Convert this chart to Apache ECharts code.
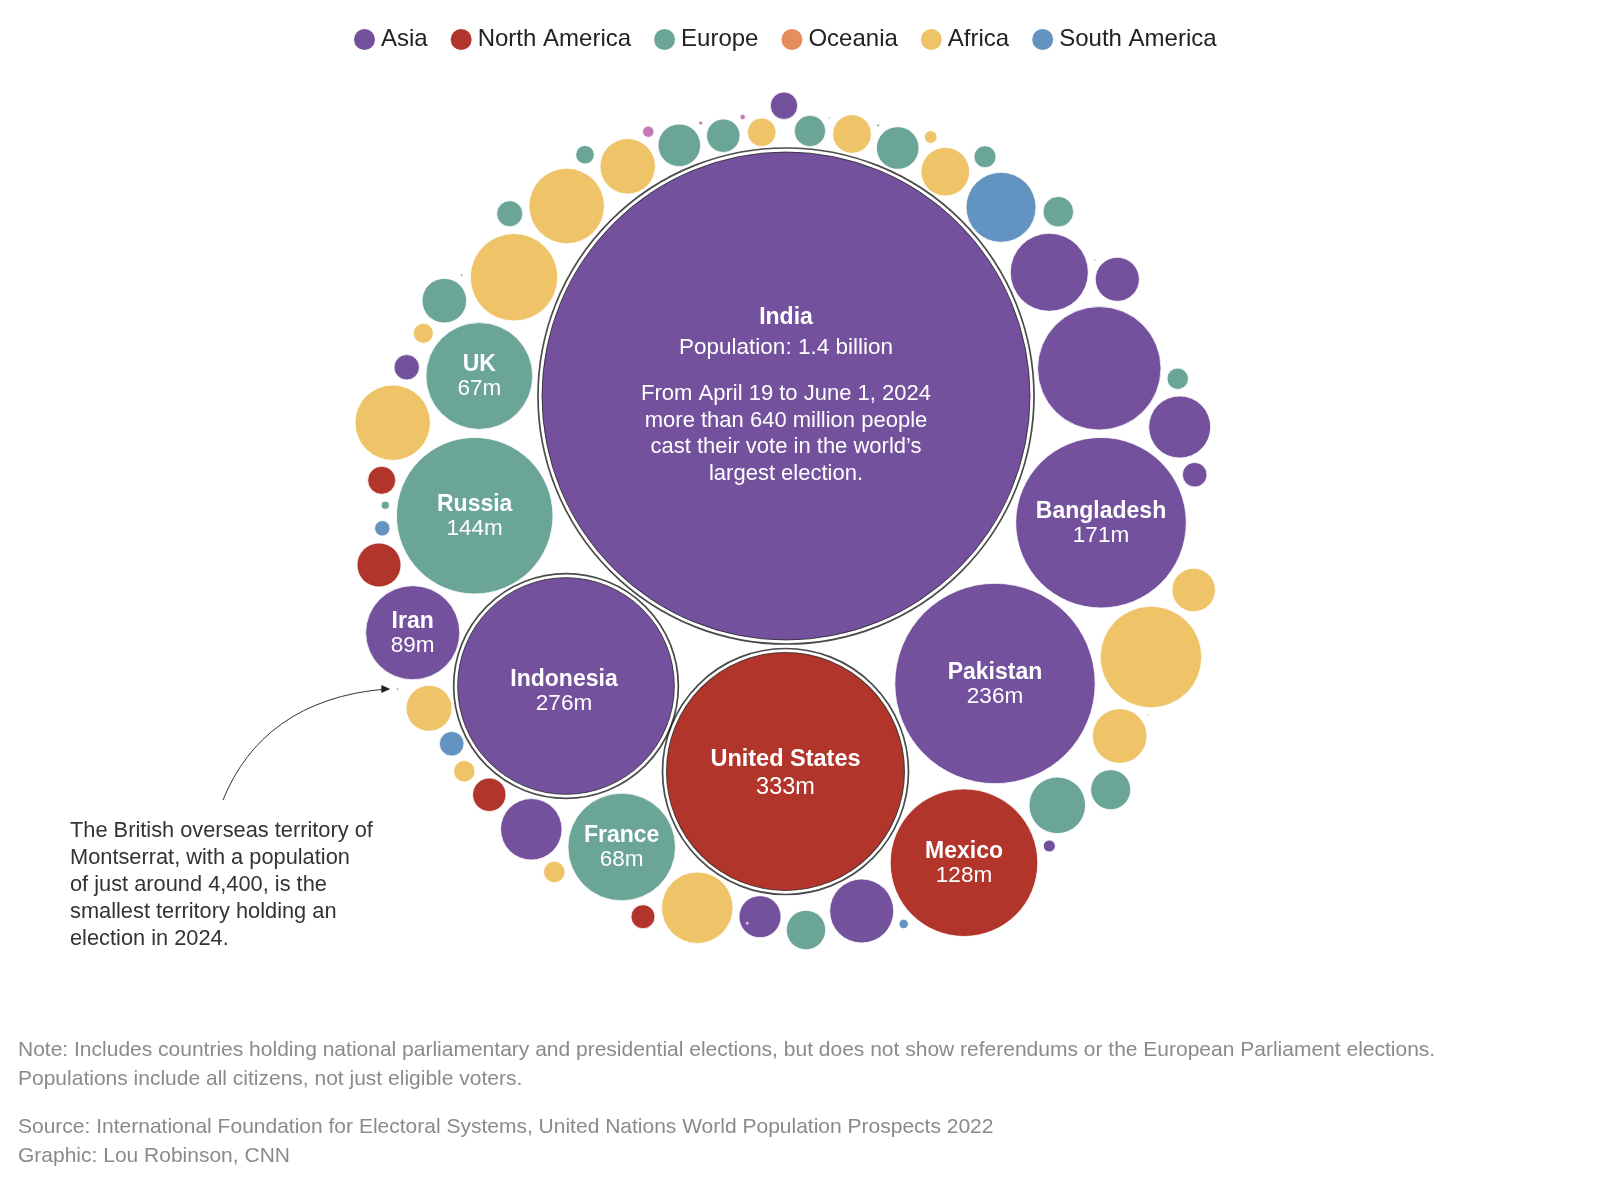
<!DOCTYPE html>
<html><head><meta charset="utf-8">
<script src="https://cdn.jsdelivr.net/npm/echarts@6/dist/echarts.min.js"></script>
<style>html,body{margin:0;padding:0;background:#fff}#c{width:1600px;height:1187px}</style>
</head><body><div id="c"></div><script>
// ---------- DATA ----------
const continentNames = ['Asia','North America','Europe','Oceania','Africa','South America'];
const continentColors = ['#74519d','#b2352b','#6aa597','#e58d5d','#efc367','#6394c1'];
const pacificColor = '#c579b7';

// labelled countries (population in millions as drawn; layout position relative to India)
const labeledNames = ['India','United States','Indonesia','Pakistan','Bangladesh','Russia','Mexico','France','UK','Iran'];
const labeledValues = ['1.4 billion','333m','276m','236m','171m','144m','128m','68m','67m','89m'];
const labeledContinents = ['Asia','North America','Asia','Asia','Asia','Europe','North America','Europe','Europe','Asia'];
const labeledPop = [1400,333,276,236,171,144,128,68,67,52];
const labeledX = [0,-0.5,-220,209,315,-311.3,178,-164.3,-306.7,-373.3];
const labeledY = [0,-375.5,-290,-287.5,-126.7,-119.7,-466.7,-451,20,-236.7];
const highlighted = ['India','United States','Indonesia'];

const indiaNote = ['From April 19 to June 1, 2024','more than 640 million people','cast their vote in the world\u2019s','largest election.'];

// unlabelled territories
const otherContinents = ['Asia','Europe','Africa','Pacific','Pacific','Europe','Europe','Pacific','Africa','Europe',
 'Africa','Europe','Africa','Pacific','Europe','Africa','Asia','Africa','North America','Europe',
 'South America','North America','North America','Africa','South America','Africa','North America','Asia','Africa','North America',
 'Africa','Asia','Europe','Asia','South America','Asia','Europe','Europe','Africa','Oceania',
 'Africa','Africa','Asia','Asia','Europe','Asia','Asia','Oceania','Asia','Europe',
 'South America','Europe','Africa','Africa','Europe','Europe','Africa','Pacific','Oceania'];
const otherPop = [4.41,5.80,4.81,0.17,0.094,6.56,10.67,0.76,18.05,2.03,
 33.4,3.98,44.9,0.04,11.7,2.35,3.79,33.4,4.61,0.38,
 1.39,11.4,0.0044,12.4,3.56,2.69,6.56,22.2,2.69,3.39,
 30.0,10.4,9.13,24.1,0.52,0.85,18.8,9.41,17.5,0.015,
 60.5,11.1,3.56,22.6,2.69,89.5,11.4,0.015,35.8,5.5,
 28.8,2.85,13.9,0.93,10.67,0.04,8.76,0.024,0.015];
const otherX = [-2,24,-24.3,-43.3,-85.3,-62.7,-106.7,-137.7,-158.3,-201,
 -219.3,-276.3,-272,-324.3,-341.7,-362.7,-379.3,-393.3,-404.3,-400.7,
 -403.7,-407,-388.7,-357,-334.3,-321.7,-296.7,-254.7,-231.7,-143,
 -88.7,-26,20,75.7,117.7,263.3,271.3,324.7,333.7,362,
 365,407.7,408.7,393.7,391.7,313.3,331.3,308.7,263.3,272.3,
 215,199,159.3,144.7,111.7,92.3,66,43.3,-38.7];
const otherY = [290.3,265,263.7,279,273,260.3,250.7,264.3,229.7,241.3,
 190,182.3,118.7,121,95.3,62.7,28.7,-26.7,-84.3,-109.3,
 -132.3,-169,-293,-312.3,-347.7,-375.3,-398.7,-433.3,-476,-520.7,
 -511.7,-520.7,-534,-515,-528,-450,-409.3,-393.7,-340,-319,
 -261,-194,-78.7,-31,17.3,27.7,116.7,135.7,123.7,184.3,
 188.7,239.3,224.3,259,248,270.7,262,278,-527.3];
const annotatedIndex = 22; // Montserrat

// ---------- CHART ----------
const FONT = '"Liberation Sans", Arial, Helvetica, sans-serif';
const K = 244 / Math.sqrt(1400); // px radius per sqrt(million)
const sizeOf = v => Math.max(2, 2 * K * Math.sqrt(v[2]));

function labelFor(i) {
  const name = labeledNames[i];
  if (name === 'India') {
    return {
      show: true, position: 'inside', offset: [0, -1],
      formatter: ['{n|India}', '{p|Population: ' + labeledValues[i] + '}', '{g| }']
        .concat(indiaNote.map(t => '{t|' + t + '}')).join('\n'),
      rich: {
        n: {fontSize: 23, fontWeight: 'bold', color: '#fff', lineHeight: 30, fontFamily: FONT},
        p: {fontSize: 22.5, color: '#fff', lineHeight: 30, fontFamily: FONT},
        g: {fontSize: 10, lineHeight: 18},
        t: {fontSize: 22, color: '#fff', lineHeight: 26.5, fontFamily: FONT}
      }
    };
  }
  const big = name === 'United States';
  return {
    show: true, position: 'inside',
    offset: name === 'Indonesia' ? [-2, 6] : (big ? [0, 2] : [0, 1]),
    formatter: '{n|' + name + '}\n{v|' + labeledValues[i] + '}',
    rich: {
      n: {fontSize: big ? 23.5 : 23, fontWeight: 'bold', color: '#fff', lineHeight: big ? 28.5 : 24.5, fontFamily: FONT},
      v: {fontSize: big ? 23.5 : 22.5, color: '#fff', lineHeight: big ? 28.5 : 24.5, fontFamily: FONT}
    }
  };
}

const groups = continentNames.concat(['Pacific']);
const groupColors = continentColors.concat([pacificColor]);

const series = groups.map((g, gi) => {
  const data = [];
  labeledNames.forEach((n, i) => {
    if (labeledContinents[i] !== g) return;
    const item = {name: n, value: [labeledX[i], labeledY[i], labeledPop[i]], label: labelFor(i)};
    if (highlighted.includes(n)) item.itemStyle = {borderColor: 'rgba(30,30,30,0.75)', borderWidth: 1};
    data.push(item);
  });
  otherContinents.forEach((c, i) => {
    if (c !== g) return;
    data.push({name: '', value: [otherX[i], otherY[i], otherPop[i]]});
  });
  return {
    type: 'scatter', name: g, data, symbol: 'circle', symbolSize: sizeOf,
    itemStyle: {color: groupColors[gi], opacity: 1, borderColor: '#fff', borderWidth: 0.8},
    label: {show: false}, emphasis: {disabled: true}, silent: true, z: 2
  };
});

series.push({
  type: 'scatter', name: 'ring', silent: true, z: 3,
  data: labeledNames.map((n, i) => highlighted.includes(n) ? [labeledX[i], labeledY[i], labeledPop[i]] : null).filter(Boolean),
  symbol: 'circle', symbolSize: v => sizeOf(v) + 8,
  itemStyle: {color: 'rgba(0,0,0,0)', borderColor: '#1e1e1e', borderWidth: 1.7},
  emphasis: {disabled: true}
});

const chart = echarts.init(document.getElementById('c'), null, {renderer: 'canvas'});
chart.setOption({
  animation: false,
  backgroundColor: '#fff',
  grid: {left: 0, top: 0, width: 1600, height: 1187},
  xAxis: {type: 'value', min: -786, max: 814, show: false},
  yAxis: {type: 'value', min: -791, max: 396, show: false},
  legend: {
    data: continentNames, icon: 'circle', itemWidth: 23, itemHeight: 23, itemGap: 21,
    left: 347, top: 22, selectedMode: false,
    textStyle: {fontSize: 24, color: '#222', fontFamily: FONT}
  },
  series
});

// annotation & notes
const tip = chart.convertToPixel({gridIndex: 0}, [otherX[annotatedIndex], otherY[annotatedIndex]]);
const ex = tip[0] - 7, ey = tip[1];
chart.setOption({
  graphic: [
    {type: 'bezierCurve', silent: true,
     shape: {x1: 223, y1: 800, cpx1: 248, cpy1: 738, cpx2: 300, cpy2: 696, x2: ex - 4, y2: ey},
     style: {stroke: '#333', lineWidth: 1, fill: null}},
    {type: 'polygon', silent: true,
     shape: {points: [[ex, ey], [ex - 9, ey - 4], [ex - 9, ey + 4]]},
     style: {fill: '#222'}},
    {type: 'text', left: 70, top: 818, silent: true,
     style: {text: 'The British overseas territory of\nMontserrat, with a population\nof just around 4,400, is the\nsmallest territory holding an\nelection in 2024.',
       font: '21.8px ' + FONT, fill: '#333', lineHeight: 26.8}},
    {type: 'text', left: 18, top: 1036, silent: true,
     style: {text: 'Note: Includes countries holding national parliamentary and presidential elections, but does not show referendums or the European Parliament elections.\nPopulations include all citizens, not just eligible voters.',
       font: '21px ' + FONT, fill: '#8a8a8a', lineHeight: 28.5}},
    {type: 'text', left: 18, top: 1113, silent: true,
     style: {text: 'Source: International Foundation for Electoral Systems, United Nations World Population Prospects 2022\nGraphic: Lou Robinson, CNN',
       font: '21px ' + FONT, fill: '#8a8a8a', lineHeight: 28.5}}
  ]
});
</script></body></html>
